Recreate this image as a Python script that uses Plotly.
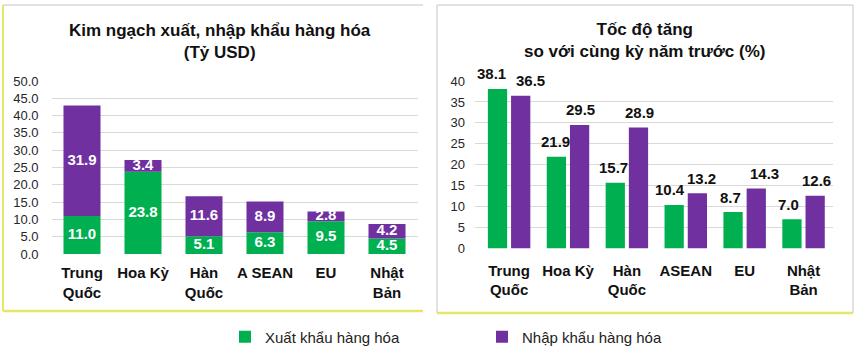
import plotly.graph_objects as go

# ---------------- data ----------------
categories_left = ["Trung<br>Quốc", "Hoa Kỳ", "Hàn<br>Quốc", "A SEAN", "EU", "Nhật<br>Bản"]
categories_right = ["Trung<br>Quốc", "Hoa Kỳ", "Hàn<br>Quốc", "ASEAN", "EU", "Nhật<br>Bản"]
export_value = [11.0, 23.8, 5.1, 6.3, 9.5, 4.5]      # Tỷ USD
import_value = [31.9, 3.4, 11.6, 8.9, 2.8, 4.2]      # Tỷ USD
export_growth = [38.1, 21.9, 15.7, 10.4, 8.7, 7.0]   # %
import_growth = [36.5, 29.5, 28.9, 13.2, 14.3, 12.6] # %
left_ticks = [0, 5, 10, 15, 20, 25, 30, 35, 40, 45, 50]
right_ticks = [0, 5, 10, 15, 20, 25, 30, 35, 40]
series_names = ["Xuất khẩu hàng hóa", "Nhập khẩu hàng hóa"]
title_left = "Kim ngạch xuất, nhập khẩu hàng hóa<br>(Tỷ USD)"
title_right = "Tốc độ tăng<br>so với cùng kỳ năm trước (%)"

# ---------------- styles ----------------
GREEN = "#00B050"
PURPLE = "#7030A0"
GRID = "#D9D9D9"
YELLOW = "#E6E66A"
FONT = "Arial, Liberation Sans, sans-serif"
W, H = 859, 357

# label nudges (px) for the growth labels, as in the original
nudge_green = [-6, -1, -2, -4, -3, -3]
nudge_purple = [10, 1, 1, 4, 8, 1]

bw_left = 0.607
bw_right = 0.327
gap_right = 0.067

fig = go.Figure()

# Left: stacked bars
fig.add_trace(go.Bar(x=categories_left, y=export_value, width=bw_left, offset=-bw_left / 2,
                     marker=dict(color=GREEN, line=dict(width=0)), name=series_names[0],
                     xaxis="x", yaxis="y", hoverinfo="skip"))
fig.add_trace(go.Bar(x=categories_left, y=import_value, base=export_value, width=bw_left,
                     offset=-bw_left / 2, marker=dict(color=PURPLE, line=dict(width=0)),
                     name=series_names[1], xaxis="x", yaxis="y", hoverinfo="skip"))
fig.add_trace(go.Scatter(x=categories_left, y=[v / 2 for v in export_value], mode="text",
                         text=[f"{v:.1f}" for v in export_value],
                         textfont=dict(color="white", size=15, family=FONT, weight="bold"),
                         showlegend=False, hoverinfo="skip", cliponaxis=False,
                         xaxis="x", yaxis="y"))
fig.add_trace(go.Scatter(x=categories_left, y=[e + i / 2 for e, i in zip(export_value, import_value)],
                         mode="text", text=[f"{v:.1f}" for v in import_value],
                         textfont=dict(color="white", size=15, family=FONT, weight="bold"),
                         showlegend=False, hoverinfo="skip", cliponaxis=False,
                         xaxis="x", yaxis="y"))

# Right: grouped bars
fig.add_trace(go.Bar(x=categories_right, y=export_growth, width=bw_right,
                     offset=-(bw_right + gap_right / 2), marker=dict(color=GREEN, line=dict(width=0)),
                     name=series_names[0], showlegend=False, xaxis="x2", yaxis="y2", hoverinfo="skip"))
fig.add_trace(go.Bar(x=categories_right, y=import_growth, width=bw_right,
                     offset=gap_right / 2, marker=dict(color=PURPLE, line=dict(width=0)),
                     name=series_names[1], showlegend=False, xaxis="x2", yaxis="y2", hoverinfo="skip"))

annotations = []
centre = bw_right / 2 + gap_right / 2
for i, (g, p) in enumerate(zip(export_growth, import_growth)):
    annotations.append(dict(x=i - centre, y=g, xref="x2", yref="y2", text=f"{g:.1f}",
                            showarrow=False, yanchor="middle", yshift=15, xshift=nudge_green[i],
                            font=dict(size=15, color="#111111", family=FONT, weight="bold")))
    annotations.append(dict(x=i + centre, y=p, xref="x2", yref="y2", text=f"{p:.1f}",
                            showarrow=False, yanchor="middle", yshift=15, xshift=nudge_purple[i],
                            font=dict(size=15, color="#111111", family=FONT, weight="bold")))

annotations.append(dict(x=220 / W, y=1 - 41 / H, xref="paper", yref="paper", text=title_left,
                        showarrow=False, xanchor="center", yanchor="middle",
                        font=dict(size=17, color="#111111", family=FONT, weight="bold")))
annotations.append(dict(x=644 / W, y=1 - 40 / H, xref="paper", yref="paper", text=title_right,
                        showarrow=False, xanchor="center", yanchor="middle",
                        font=dict(size=17, color="#111111", family=FONT, weight="bold")))

def line(x0, y0, x1, y1, color, width=1.5):
    return dict(type="line", xref="paper", yref="paper", x0=x0 / W, x1=x1 / W,
                y0=1 - y0 / H, y1=1 - y1 / H, line=dict(color=color, width=width), layer="below")

shapes = [
    line(3, 5, 423, 5, GRID),
    line(3, 5, 3, 311, YELLOW, 2),
    line(3, 311, 423, 311, YELLOW, 2.5),
    line(437, 5, 853, 5, GRID),
    line(437, 5, 437, 313, GRID),
    line(853, 5, 853, 313, GRID),
    line(437, 313, 853, 313, YELLOW, 2.5),
]

tickfont = dict(size=13, color="#262626", family=FONT)
catfont = dict(size=15, color="#111111", family=FONT, weight="bold")

fig.update_layout(
    width=W, height=H, autosize=False,
    margin=dict(l=0, r=0, t=0, b=0, autoexpand=False),
    paper_bgcolor="white", plot_bgcolor="white",
    barmode="group",
    font=dict(family=FONT),
    xaxis=dict(domain=[51.5 / W, 417.5 / W], type="category", showgrid=False, zeroline=False,
               showline=False, ticks="", tickfont=catfont, ticklabelstandoff=8, fixedrange=True,
               automargin=False),
    yaxis=dict(domain=[1 - 254 / H, 1 - 81 / H], range=[0, 50], tickvals=left_ticks,
               tickformat=".1f", showgrid=True, gridcolor=GRID, gridwidth=1, zeroline=False,
               showline=False, ticks="", tickfont=tickfont, ticklabelstandoff=12, fixedrange=True,
               automargin=False),
    xaxis2=dict(domain=[475 / W, 833 / W], type="category", showgrid=False, zeroline=False,
                showline=False, ticks="", tickfont=catfont, ticklabelstandoff=11, fixedrange=True,
                anchor="y2", automargin=False),
    yaxis2=dict(domain=[1 - 248.5 / H, 1 - 81 / H], range=[0, 40], tickvals=right_ticks,
                showgrid=True, gridcolor=GRID, gridwidth=1, zeroline=False, showline=False,
                ticks="", tickfont=tickfont, ticklabelstandoff=9, fixedrange=True, anchor="x2",
                automargin=False),
    legend=dict(orientation="h", x=225 / W, xanchor="left", y=1 - 337 / H, yanchor="middle",
                entrywidth=212, entrywidthmode="pixels",
                font=dict(size=15, color="#222222", family=FONT), bgcolor="rgba(0,0,0,0)"),
    showlegend=True,
    annotations=annotations,
    shapes=shapes,
)

fig.write_html("out.html", config={"displayModeBar": False},
               post_script="document.body.style.margin='0';document.body.style.padding='0';")
